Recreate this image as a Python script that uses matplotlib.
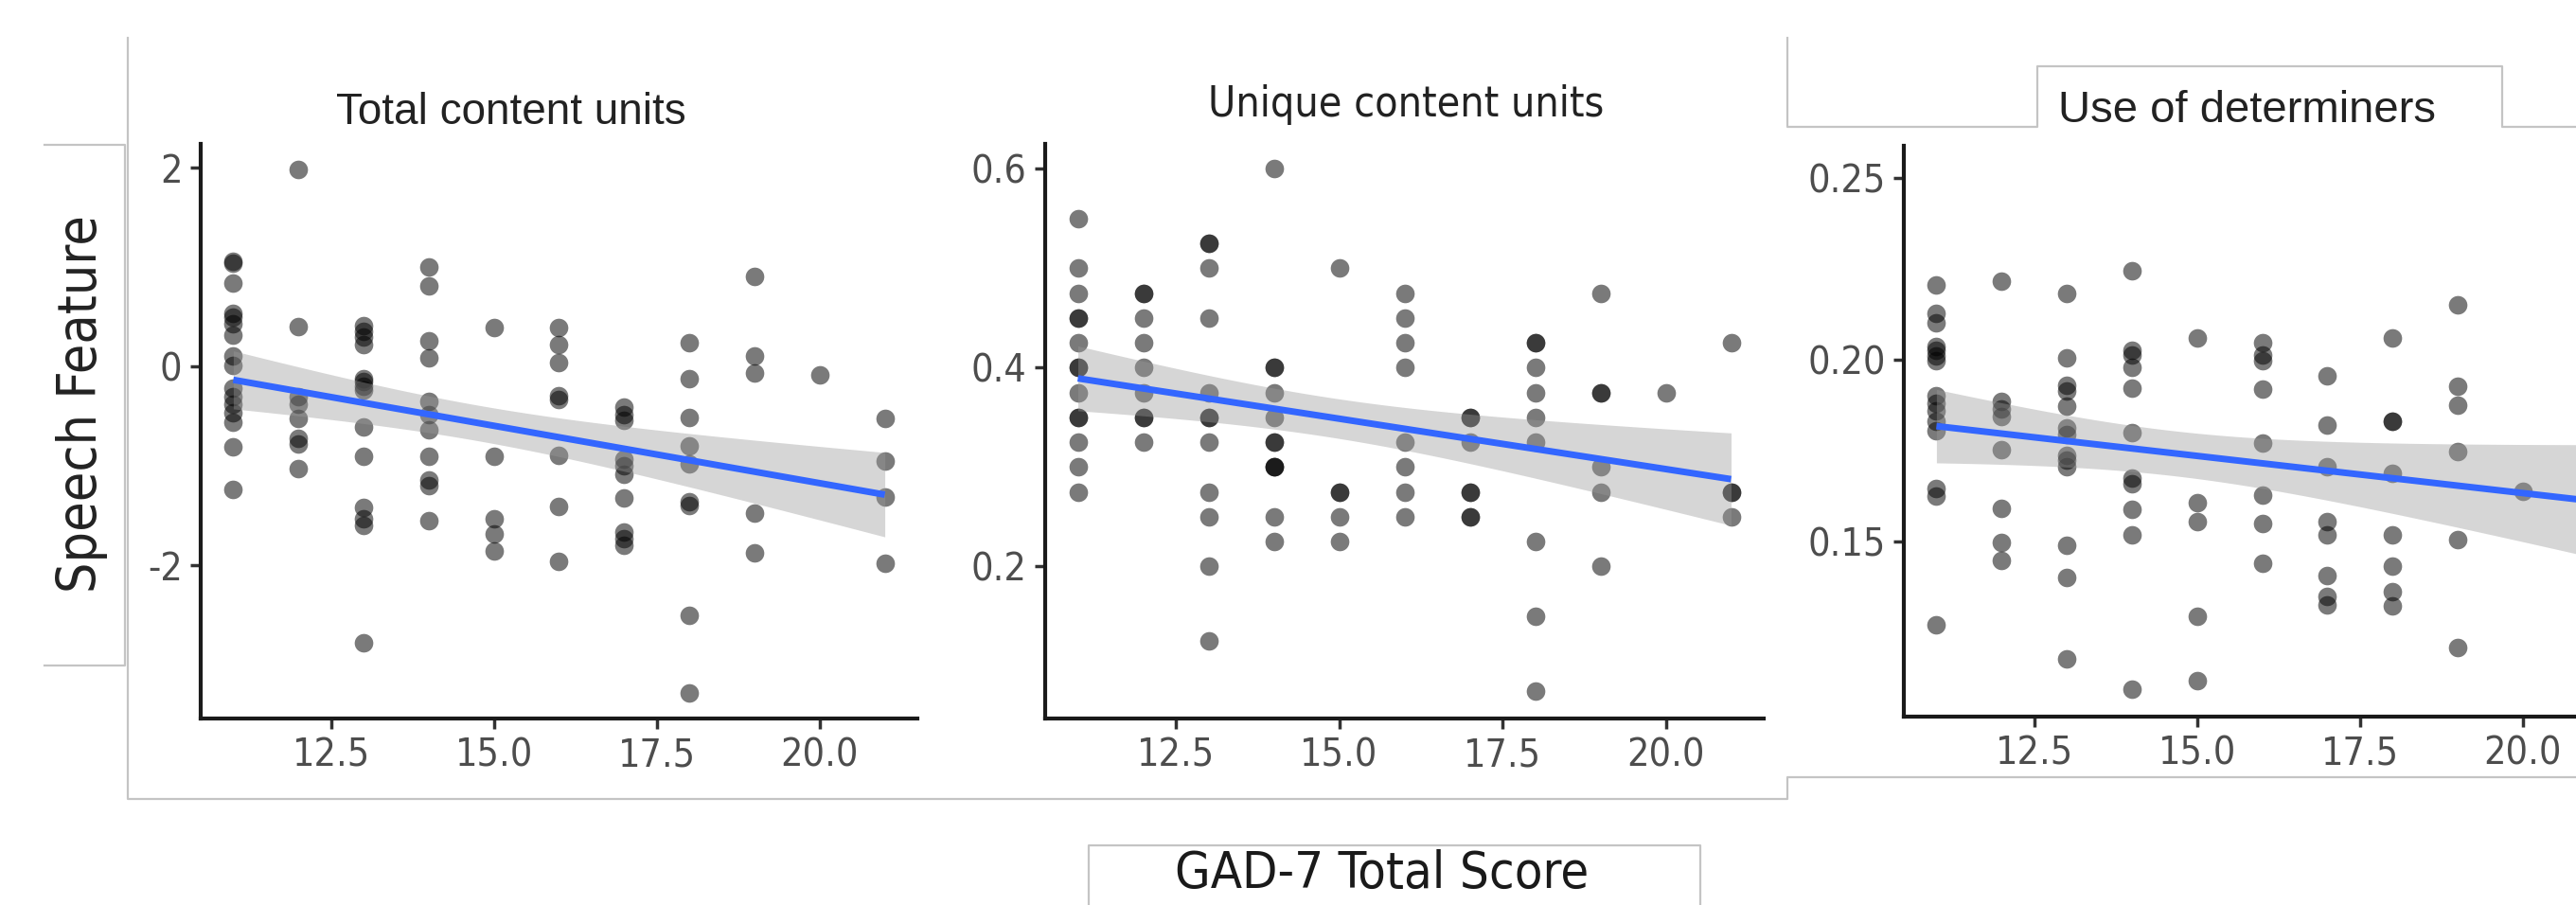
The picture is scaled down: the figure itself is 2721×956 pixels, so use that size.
import numpy as np
import matplotlib
matplotlib.use("Agg")
import matplotlib.pyplot as plt
from matplotlib.lines import Line2D

W, H = 2721, 956

# GAD-7 score columns and the speech feature values read per column
gad_scores = [11, 12, 13, 14, 15, 16, 17, 18, 19, 20, 21]

total_content_units = [
    [1.06, 1.04, 0.84, 0.54, 0.50, 0.43, 0.32, 0.11, 0.01, -0.22, -0.30, -0.38, -0.46, -0.56, -0.81, -1.24],
    [1.98, 0.40, -0.30, -0.38, -0.52, -0.72, -0.78, -1.03],
    [0.41, 0.35, 0.30, 0.22, -0.12, -0.15, -0.20, -0.24, -0.61, -0.90, -1.42, -1.53, -1.60, -2.78],
    [1.00, 0.81, 0.26, 0.09, -0.35, -0.48, -0.64, -0.90, -1.14, -1.20, -1.55],
    [0.39, -0.90, -1.53, -1.68, -1.85],
    [0.39, 0.22, 0.04, -0.29, -0.33, -0.89, -1.41, -1.96],
    [-0.41, -0.48, -0.54, -0.93, -1.00, -1.08, -1.32, -1.66, -1.73, -1.80],
    [0.24, -0.12, -0.51, -0.80, -0.98, -1.36, -1.40, -2.50, -3.28],
    [0.91, 0.11, -0.06, -1.47, -1.87],
    [-0.08],
    [-0.52, -0.95, -1.31, -1.98],
]

unique_content_units = [
    [0.55, 0.5, 0.475, 0.45, 0.45, 0.425, 0.4, 0.4, 0.375, 0.35, 0.35, 0.325, 0.3, 0.275],
    [0.475, 0.475, 0.45, 0.425, 0.4, 0.375, 0.35, 0.35, 0.325],
    [0.525, 0.525, 0.5, 0.45, 0.375, 0.35, 0.35, 0.325, 0.275, 0.25, 0.2, 0.125],
    [0.6, 0.4, 0.4, 0.375, 0.35, 0.325, 0.325, 0.3, 0.3, 0.3, 0.25, 0.225],
    [0.5, 0.275, 0.275, 0.25, 0.225],
    [0.475, 0.45, 0.425, 0.4, 0.325, 0.3, 0.275, 0.25],
    [0.35, 0.35, 0.325, 0.275, 0.275, 0.25, 0.25],
    [0.425, 0.425, 0.4, 0.375, 0.35, 0.325, 0.225, 0.15, 0.075],
    [0.475, 0.375, 0.375, 0.3, 0.275, 0.2],
    [0.375],
    [0.425, 0.275, 0.275, 0.25],
]

use_of_determiners = [
    [0.2206, 0.2128, 0.2102, 0.2036, 0.2026, 0.2011, 0.1997, 0.190, 0.188, 0.1858, 0.183, 0.1804, 0.1645, 0.1624, 0.1268],
    [0.2216, 0.1886, 0.1865, 0.1844, 0.1751, 0.1591, 0.1496, 0.1446],
    [0.2182, 0.2006, 0.1929, 0.1915, 0.1872, 0.1813, 0.1794, 0.1737, 0.1723, 0.1705, 0.1489, 0.1401, 0.1176],
    [0.2246, 0.2026, 0.2014, 0.1979, 0.1922, 0.1798, 0.1673, 0.1659, 0.1588, 0.1517, 0.1091],
    [0.2061, 0.1605, 0.1555, 0.1293, 0.1115],
    [0.2047, 0.2014, 0.1997, 0.1918, 0.177, 0.1628, 0.1548, 0.1439],
    [0.1957, 0.182, 0.1706, 0.1555, 0.1517, 0.1406, 0.1347, 0.1325],
    [0.2061, 0.183, 0.183, 0.1688, 0.1517, 0.1432, 0.1361, 0.1321],
    [0.2152, 0.1926, 0.1875, 0.1747, 0.1503, 0.1207],
    [0.1638],
    [0.252, 0.123],  # column is cut off at the right edge
]

panel_titles = ["Total content units", "Unique content units", "Use of determiners"]
x_ticks = [12.5, 15.0, 17.5, 20.0]
x_tick_labels = ["12.5", "15.0", "17.5", "20.0"]
y_ticks = [[-2, 0, 2], [0.2, 0.4, 0.6], [0.15, 0.20, 0.25]]
y_tick_labels = [["-2", "0", "2"], ["0.2", "0.4", "0.6"], ["0.15", "0.20", "0.25"]]
y_limits = [(-3.54, 2.24), (0.047, 0.625), (0.1016, 0.259)]


def flatten(scores, groups):
    xs, ys = [], []
    for s, g in zip(scores, groups):
        xs += [s] * len(g)
        ys += g
    return np.array(xs, float), np.array(ys, float)


def lm_band(x, y, grid, t=1.98):
    slope, icpt = np.polyfit(x, y, 1)
    fit = icpt + slope * grid
    resid = y - (icpt + slope * x)
    s = np.sqrt(np.sum(resid ** 2) / (len(x) - 2))
    se = s * np.sqrt(1 / len(x) + (grid - x.mean()) ** 2 / np.sum((x - x.mean()) ** 2))
    return fit, fit - t * se, fit + t * se


def px(x, y):
    return x / W, 1 - y / H


fig = plt.figure(figsize=(W / 100, H / 100), dpi=100)

# axes boxes in pixels: left, right, top, bottom
boxes = [(212, 969, 152, 759), (1104, 1863, 152, 759), (2011, 2768, 154, 757)]
datasets = [total_content_units, unique_content_units, use_of_determiners]

tick_font = dict(family="DejaVu Sans", fontstretch="condensed", fontsize=29.5, color="#4d4d4d")

for i, (l, r, t, b) in enumerate(boxes):
    ax = fig.add_axes([l / W, 1 - b / H, (r - l) / W, (b - t) / H])
    x, y = flatten(gad_scores, datasets[i])
    ax.scatter(x, y, s=200, color="black", alpha=0.52, linewidths=0, zorder=2)
    grid = np.linspace(min(gad_scores), max(gad_scores), 100)
    fit, lo, hi = lm_band(x, y, grid)
    ax.fill_between(grid, lo, hi, color="#999999", alpha=0.4, linewidth=0, zorder=3)
    ax.plot(grid, fit, color="#3366FF", linewidth=5, zorder=4, solid_capstyle="butt")

    ax.set_xlim(10.5, 21.5)
    ax.set_ylim(*y_limits[i])
    ax.set_xticks(x_ticks)
    ax.set_xticklabels(x_tick_labels, **tick_font)
    ax.set_yticks(y_ticks[i])
    ax.set_yticklabels(y_tick_labels[i], **tick_font)
    for side in ["top", "right"]:
        ax.spines[side].set_visible(False)
    for side in ["left", "bottom"]:
        ax.spines[side].set_linewidth(3)
        ax.spines[side].set_color("#1a1a1a")
    ax.tick_params(length=8, width=2.5, color="#333333", pad=6)
    ax.set_facecolor("none")

# panel titles (pasted from different sources, hence different fonts)
fig.text(*px(540, 119), panel_titles[0], ha="center", va="center",
         family="Liberation Sans", fontsize=33, color="#222222")
fig.text(*px(1485, 110), panel_titles[1], ha="center", va="center",
         family="DejaVu Sans", fontstretch="condensed", fontsize=32, color="#222222")
fig.text(*px(2374, 117), panel_titles[2], ha="center", va="center",
         family="Liberation Sans", fontsize=34, color="#222222")

fig.text(*px(87, 427), "Speech Feature", ha="center", va="center", rotation=90,
         family="DejaVu Sans", fontstretch="condensed", fontsize=41, color="#222222")
fig.text(*px(1460, 923), "GAD-7 Total Score", ha="center", va="center",
         family="DejaVu Sans", fontstretch="condensed", fontsize=39, color="#1a1a1a")

# thin grey outlines left over from the pasted panels
outlines = [
    [(135, 40), (135, 844), (1888, 844), (1888, 821), (2721, 821)],
    [(1888, 40), (1888, 134), (2152, 134), (2152, 70), (2643, 70), (2643, 134), (2721, 134)],
    [(47, 153), (132, 153), (132, 703), (47, 703)],
    [(1150, 956), (1150, 893), (1796, 893), (1796, 956)],
]
for pts in outlines:
    xs = [p[0] / W for p in pts]
    ys = [1 - p[1] / H for p in pts]
    fig.add_artist(Line2D(xs, ys, transform=fig.transFigure, color="#c4c4c4", linewidth=1.6))

fig.savefig("out.png", dpi=100)
